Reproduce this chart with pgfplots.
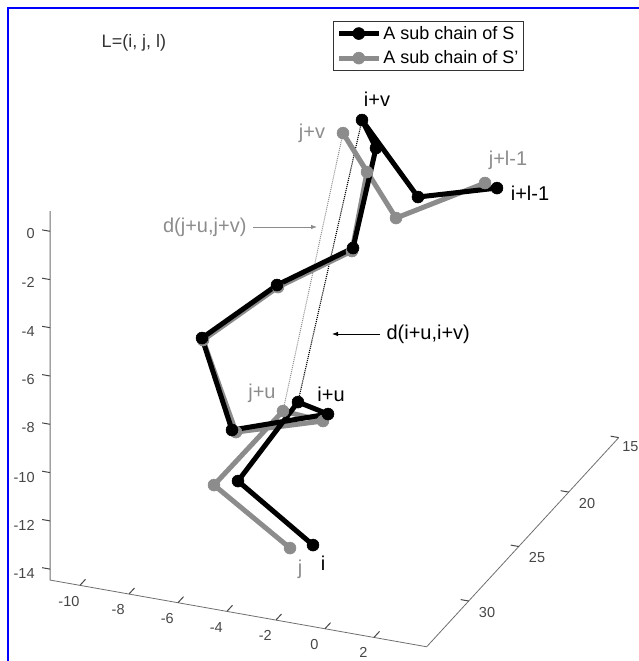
\documentclass[border=0pt]{standalone}
\usepackage{fontspec}
\setmainfont{Liberation Sans}
\usepackage{pgfplots}
\pgfplotsset{compat=1.18}
\usetikzlibrary{arrows.meta}
\definecolor{cgray}{RGB}{140,140,140}
\definecolor{axgray}{RGB}{110,110,110}
\definecolor{tkgray}{RGB}{70,70,70}
\newcommand\lab{\fontsize{18}{21}\selectfont}
\newcommand\labb{\fontsize{20}{23}\selectfont}
\newcommand\scr[2]{([shift={(#1pt-667pt,-92.5pt-#2pt)}]O)}
\begin{document}
\begin{tikzpicture}
\begin{axis}[
  x={(24.5pt,-4.34pt)}, y={(-10pt,-10.89pt)}, z={(0pt,24.14pt)},
  xmin=-11.22, xmax=4.15, ymin=15, ymax=34.2, zmin=-14.45, zmax=0.83,
  xtick={-10,-8,-6,-4,-2,0,2}, xticklabels={-10,-8,-6,-4,-2,0,2},
  ytick={15,20,25,30}, yticklabels={{\hspace*{-9pt}15},20,25,30},
  ztick={-14,-12,-10,-8,-6,-4,-2,0}, zticklabels={-14,-12,-10,-8,-6,-4,-2,0},
  axis line style={draw=none},
  major tick length=0pt,
  ticklabel style={font=\fontsize{14.5}{16}\selectfont, text=tkgray},
  xticklabel style={xshift=-7pt, yshift=-6pt},
  yticklabel style={xshift=9pt},
  zticklabel style={xshift=-12pt},
  clip=false,
  reverse legend,
  legend cell align=left,
  legend style={at={(axis cs:-7.51,15,0.715)}, anchor=north west, draw=black!80, line width=0.6pt, font=\lab, inner sep=3pt, row sep=6pt},
  legend image code/.code={\draw[mark repeat=2,mark phase=2,#1] plot coordinates {(0pt,0pt) (20pt,0pt) (40pt,0pt)};},
]
\coordinate (O) at (axis cs:0,0,0);
\draw[axgray, line width=0.8pt] (axis cs:-11.22,34.2,0.83) -- (axis cs:-11.22,34.2,-14.45) -- (axis cs:4.15,34.2,-14.45) -- (axis cs:4.15,15,-14.45);
% dotted distances
\addplot3[densely dotted, cgray, line width=1pt, forget plot] coordinates {(-4.780,26.69,-9.679) (-5.135,19.82,-1.326)};
\addplot3[densely dotted, black, line width=1.1pt, forget plot] coordinates {(-4.257,26.47,-9.311) (-4.490,19.5,-0.815)};
% sub chain of S'
\addplot3[cgray, line width=5pt, line join=round, mark=*, mark size=6pt, mark options={line width=0.5pt}] coordinates {
(-3.114,30.07,-13.530) (-6.849,28.52,-12.291) (-4.780,26.69,-9.679) (-3.049,26.93,-9.673)
(-6.486,27.21,-10.621) (-8.763,24.93,-8.248) (-6.237,23.62,-6.189) (-3.576,22.74,-4.616)
(-3.763,20.78,-2.261) (-5.135,19.82,-1.326) (-2.114,21.92,-3.356) (1.167,21.06,-1.704)};
\addlegendentry{A sub chain of S'}
% sub chain of S
\addplot3[black, line width=5pt, line join=round, mark=*, mark size=6pt, mark options={line width=0.5pt}] coordinates {
(-2.204,30.0,-13.274) (-5.910,28.42,-12.001) (-4.257,26.47,-9.311) (-2.914,26.76,-9.436)
(-6.669,27.16,-10.593) (-8.824,24.88,-8.198) (-6.294,23.58,-6.134) (-3.567,22.66,-4.526)
(-3.637,20.19,-1.511) (-4.490,19.5,-0.815) (-1.429,21.40,-2.597) (1.706,21.18,-1.761)};
\addlegendentry{A sub chain of S}
\end{axis}
% axis tick marks
\foreach \px/\py in {80/585.3,129/594,178/602.7,227/611.3,276/620,325/628.7,374/637.4}
  \draw[tkgray, line width=1pt] ([shift={(\px pt-667pt,-92.5pt-\py pt)}]O) -- ++(5.5pt,6pt);
\foreach \px/\py in {618.7/437.6,568.7/492.1,518.7/546.5,468.7/601,50.1/569.1,50.1/520.9,50.1/472.6,50.1/424.3,50.1/376,50.1/327.7,50.1/279.6,50.1/231.3}
  \draw[tkgray, line width=1pt] ([shift={(\px pt-667pt,-92.5pt-\py pt)}]O) -- ++(-8pt,1.4pt);
\node[font=\labb, black] at \scr{377}{99} {i+v};
\node[font=\labb, cgray] at \scr{312}{133} {j+v};
\node[font=\labb, cgray] at \scr{508}{160} {j+l-1};
\node[font=\labb, black] at \scr{530}{193} {i+l-1};
\node[font=\labb, black] at \scr{331}{394} {i+u};
\node[font=\labb, cgray] at \scr{262}{393} {j+u};
\node[font=\labb, black] at \scr{323}{563} {i};
\node[font=\labb, cgray] at \scr{300}{569} {j};
\node[font=\lab, black!80] at \scr{134}{43} {L=(i, j, l)};
\node[font=\labb, cgray, anchor=east] at \scr{250}{227} {d(j+u,j+v)};
\draw[cgray, line width=0.8pt, -{Latex[length=6pt]}] \scr{253}{227} -- \scr{317}{227};
\node[font=\labb, black, anchor=west] at \scr{383}{334} {d(i+u,i+v)};
\draw[black, line width=0.8pt, -{Latex[length=6pt]}] \scr{380}{334} -- \scr{332}{334};
\pgfresetboundingbox
\path[use as bounding box] \scr{0}{0} rectangle \scr{639}{661};
\draw[blue, line width=2.5pt] \scr{8}{670} -- \scr{8}{8} -- \scr{650}{8};
\end{tikzpicture}
\end{document}
